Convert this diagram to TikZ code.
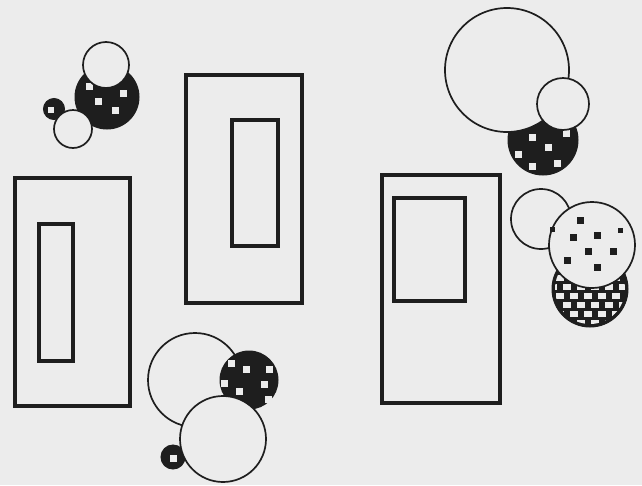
\documentclass[tikz,border=0pt]{standalone}
\begin{document}
\definecolor{bg}{RGB}{236,236,236}
\definecolor{ink}{RGB}{30,30,30}
\begin{tikzpicture}[x=1pt,y=-1pt,
  frame/.style={draw=ink, line width=3.4pt, fill=none},
  wc/.style={draw=ink, line width=1.7pt, fill=bg},
  dc/.style={draw=ink, fill=ink, line width=1pt},
  wsq/.style={fill=bg},
  bsq/.style={fill=ink}]
\fill[bg] (0,0) rectangle (642,485);
% rectangles
\draw[frame] (15,178) rectangle (130,406);
\draw[frame] (39,224) rectangle (73,361);
\draw[frame] (186,75) rectangle (302,303);
\draw[frame] (232,120) rectangle (278,246);
\draw[frame] (382,175) rectangle (500,403);
\draw[frame] (394,198) rectangle (465,301);
% cluster 1 (top left)
\draw[dc] (107,97) circle (32pt);
\foreach \p in {(89,86),(123,93),(98,101),(115,110)}
  \fill[wsq] \p ++(-3.5,-3.5) rectangle ++(7,7);
\draw[wc] (106,65) circle (23pt);
\draw[dc] (54,109) circle (10.5pt);
\fill[wsq] (51,110) ++(-3,-3) rectangle ++(6,6);
\draw[wc] (73,129) circle (19pt);
% cluster 2 (bottom middle)
\draw[wc] (195,380) circle (47pt);
\draw[dc] (249,380) circle (29pt);
\foreach \p in {(246,369),(269,369),(264,384),(239,391),(224,383),(268,399),(231,363)}
  \fill[wsq] \p ++(-3.5,-3.5) rectangle ++(7,7);
\draw[dc] (173,457) circle (12pt);
\fill[wsq] (173,458) ++(-3.5,-3.5) rectangle ++(7,7);
\draw[wc] (223,439) circle (43pt);
% cluster 3 (top right)
\draw[dc] (543,140) circle (35pt);
\begin{scope}
\clip (543,140) circle (34pt);
\foreach \p in {(532,137),(548,147),(518,154),(557,163),(566,133),(532,166)}
  \fill[wsq] \p ++(-3.5,-3.5) rectangle ++(7,7);
\end{scope}
\draw[wc] (507,70) circle (62pt);
\draw[wc] (563,104) circle (26pt);
% cluster 4 (right)
\draw[dc] (590,289) circle (38pt);
\begin{scope}
\clip (590,289) circle (35pt);
\foreach \r [count=\i] in {251,260,269,278,287,296,305,314,323}
  \foreach \c in {546,560,574,588,602,616,630}
    \fill[wsq] ({\c+mod(\i,2)*7},\r) ++(-4,-3) rectangle ++(8,6);
\end{scope}
\draw[wc] (541,219) circle (30pt);
\draw[wc] (592,245) circle (43pt);
\foreach \p in {(580,220),(573,237),(597,235),(588,251),(613,251),(567,260),(597,267)}
  \fill[bsq] \p ++(-3.5,-3.5) rectangle ++(7,7);
\fill[bsq] (552,229) ++(-2.5,-2.5) rectangle ++(5,5);
\fill[bsq] (620,230) ++(-2.5,-2.5) rectangle ++(5,5);
\end{tikzpicture}
\end{document}
